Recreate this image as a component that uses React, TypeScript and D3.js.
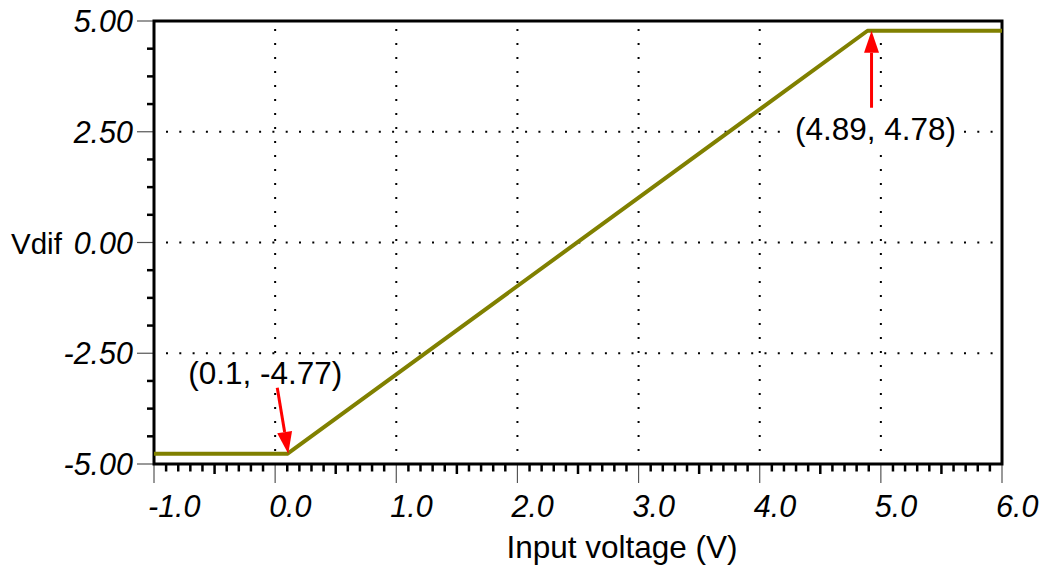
import React, { useRef, useEffect } from "react";
import * as d3 from "d3";

// transfer curve: input voltage vs Vdif
const inputVoltage = [-1.0, 0.1, 4.89, 6.0];
const vdif = [-4.77, -4.77, 4.78, 4.78];

const xTicks = [-1, 0, 1, 2, 3, 4, 5, 6];
const yTicks = [-5, -2.5, 0, 2.5, 5];

// annotated points, label text
const notePoints = [
  { x: 0.1, y: -4.77, label: "(0.1, -4.77)" },
  { x: 4.89, y: 4.78, label: "(4.89, 4.78)" },
];

const W = 1042;
const H = 565;
const margin = { left: 154, right: 40, top: 21, bottom: 101 };
const FONT = "'Liberation Sans', Arial, Helvetica, sans-serif";

// plain hyphen instead of d3's unicode minus
const fmt = (spec: string) => (v: number) => d3.format(spec)(v).replace("\u2212", "-");

const App = () => {
  const svgRef = useRef<SVGSVGElement>(null);

  useEffect(() => {
    const svg = d3.select(svgRef.current);
    svg.selectAll("*").remove();

    const xScale = d3.scaleLinear().domain([-1, 6]).range([margin.left, W - margin.right]);
    const yScale = d3.scaleLinear().domain([-5, 5]).range([H - margin.bottom, margin.top]);
    const [x0, x1] = xScale.range();
    const [y0, y1] = yScale.range(); // y0 bottom, y1 top

    // dotted grid
    const grid = svg.append("g");
    grid
      .selectAll(".vgrid")
      .data(xTicks.slice(1, -1))
      .join("line")
      .attr("x1", (d) => xScale(d))
      .attr("x2", (d) => xScale(d))
      .attr("y1", y1 + 8)
      .attr("y2", y0)
      .attr("stroke", "#000")
      .attr("stroke-width", 2)
      .attr("stroke-dasharray", "2 12");
    grid
      .selectAll(".hgrid")
      .data(yTicks.slice(1, -1))
      .join("line")
      .attr("x1", x0 + 12)
      .attr("x2", x1)
      .attr("y1", (d) => yScale(d))
      .attr("y2", (d) => yScale(d))
      .attr("stroke", "#000")
      .attr("stroke-width", 2)
      .attr("stroke-dasharray", "2 11.3");

    // minor ticks on x (every 0.1, the .5 ones a bit longer)
    const xMinor = d3.range(-10, 61).map((i) => i / 10).filter((v) => Math.abs(v - Math.round(v)) > 1e-6);
    svg
      .append("g")
      .selectAll("line")
      .data(xMinor)
      .join("line")
      .attr("x1", (d) => xScale(d))
      .attr("x2", (d) => xScale(d))
      .attr("y1", y0)
      .attr("y2", (d) => (Math.abs(d * 2 - Math.round(d * 2)) < 1e-6 ? y0 + 10 : y0 + 7.5))
      .attr("stroke", "#000")
      .attr("stroke-width", 2.5);

    // minor ticks on y (quarters between majors)
    const yMinor = d3.range(-8, 9).map((i) => i * 0.625).filter((v) => v > -5 && v < 5 && Math.abs(v / 2.5 - Math.round(v / 2.5)) > 1e-6);
    svg
      .append("g")
      .selectAll("line")
      .data(yMinor)
      .join("line")
      .attr("x1", x0 - 7)
      .attr("x2", x0)
      .attr("y1", (d) => yScale(d))
      .attr("y2", (d) => yScale(d))
      .attr("stroke", "#000")
      .attr("stroke-width", 2.5);

    // major ticks (thin, gray)
    svg
      .append("g")
      .selectAll("line")
      .data(xTicks)
      .join("line")
      .attr("x1", (d) => xScale(d))
      .attr("x2", (d) => xScale(d))
      .attr("y1", y0)
      .attr("y2", y0 + 19)
      .attr("stroke", "#555")
      .attr("stroke-width", 1.2);
    svg
      .append("g")
      .selectAll("line")
      .data(yTicks)
      .join("line")
      .attr("x1", x0 - 17)
      .attr("x2", x0)
      .attr("y1", (d) => yScale(d))
      .attr("y2", (d) => yScale(d))
      .attr("stroke", "#555")
      .attr("stroke-width", 1.2);

    // frame
    svg
      .append("rect")
      .attr("x", x0)
      .attr("y", y1)
      .attr("width", x1 - x0)
      .attr("height", y0 - y1)
      .attr("fill", "none")
      .attr("stroke", "#000")
      .attr("stroke-width", 3);

    // tick labels
    svg
      .append("g")
      .selectAll("text")
      .data(xTicks)
      .join("text")
      .attr("x", (d) => xScale(d) - 6)
      .attr("y", 517)
      .attr("font-family", FONT)
      .attr("font-style", "italic")
      .attr("font-size", 30.5)
      .attr("fill", "#000")
      .text((d) => fmt(".1f")(d));
    svg
      .append("g")
      .selectAll("text")
      .data(yTicks)
      .join("text")
      .attr("x", x0 - 21)
      .attr("y", (d) => yScale(d) + 11)
      .attr("text-anchor", "end")
      .attr("font-family", FONT)
      .attr("font-style", "italic")
      .attr("font-size", 30.5)
      .attr("fill", "#000")
      .text((d) => fmt(".2f")(d));

    // axis titles
    svg
      .append("text")
      .attr("x", 11)
      .attr("y", yScale(0) + 11)
      .attr("font-family", FONT)
      .attr("font-size", 29.5)
      .text("Vdif");
    svg
      .append("text")
      .attr("x", (x0 + x1) / 2 + 44)
      .attr("y", 558)
      .attr("text-anchor", "middle")
      .attr("font-family", FONT)
      .attr("font-size", 31.5)
      .text("Input voltage (V)");

    // curve
    const pts = inputVoltage.map((v, i) => [v, vdif[i]] as [number, number]);
    const line = d3
      .line<[number, number]>()
      .x((d) => xScale(d[0]))
      .y((d) => yScale(d[1]));
    svg
      .append("path")
      .attr("d", line(pts))
      .attr("fill", "none")
      .attr("stroke", "#808000")
      .attr("stroke-width", 4)
      .attr("stroke-linejoin", "round");

    // annotations: label + red arrow pointing at the point
    const offsets = [
      { tip: [1, 0], tail: [-11, -66], text: [-22, -70] },
      { tip: [4, 0], tail: [0, 77], text: [8, 109] },
    ];
    notePoints.forEach((p, i) => {
      const tx = xScale(p.x) + offsets[i].tip[0];
      const ty = yScale(p.y) + offsets[i].tip[1];
      const [dx, dy] = offsets[i].tail;
      const sx = tx + dx;
      const sy = ty + dy;
      const ang = Math.atan2(ty - sy, tx - sx);
      const headLen = 22;
      const headW = 7.5;
      const bx = tx - headLen * Math.cos(ang);
      const by = ty - headLen * Math.sin(ang);
      const nx = -Math.sin(ang);
      const ny = Math.cos(ang);

      const g = svg.append("g");
      const lx = xScale(p.x) + offsets[i].text[0];
      const ly = yScale(p.y) + offsets[i].text[1];
      const t = g
        .append("text")
        .attr("x", lx)
        .attr("y", ly)
        .attr("text-anchor", "middle")
        .attr("font-family", FONT)
        .attr("font-size", 31.5)
        .attr("fill", "#000")
        .text(p.label);
      const bb = (t.node() as SVGTextElement).getBBox();
      g.insert("rect", "text")
        .attr("x", bb.x - 4)
        .attr("y", bb.y + 2)
        .attr("width", bb.width + 8)
        .attr("height", bb.height - 2)
        .attr("fill", "#fff");

      g.append("line")
        .attr("x1", sx)
        .attr("y1", sy)
        .attr("x2", bx)
        .attr("y2", by)
        .attr("stroke", "#ff0000")
        .attr("stroke-width", 3);
      g.append("polygon")
        .attr(
          "points",
          [
            [tx, ty],
            [bx + nx * headW, by + ny * headW],
            [bx - nx * headW, by - ny * headW],
          ]
            .map((q) => q.join(","))
            .join(" ")
        )
        .attr("fill", "#ff0000");
    });
  }, []);

  return (
    <div style={{ position: "absolute", left: 0, top: 0 }}>
      <svg ref={svgRef} width={W} height={H} style={{ display: "block", background: "#fff" }} />
    </div>
  );
};

export default App;
